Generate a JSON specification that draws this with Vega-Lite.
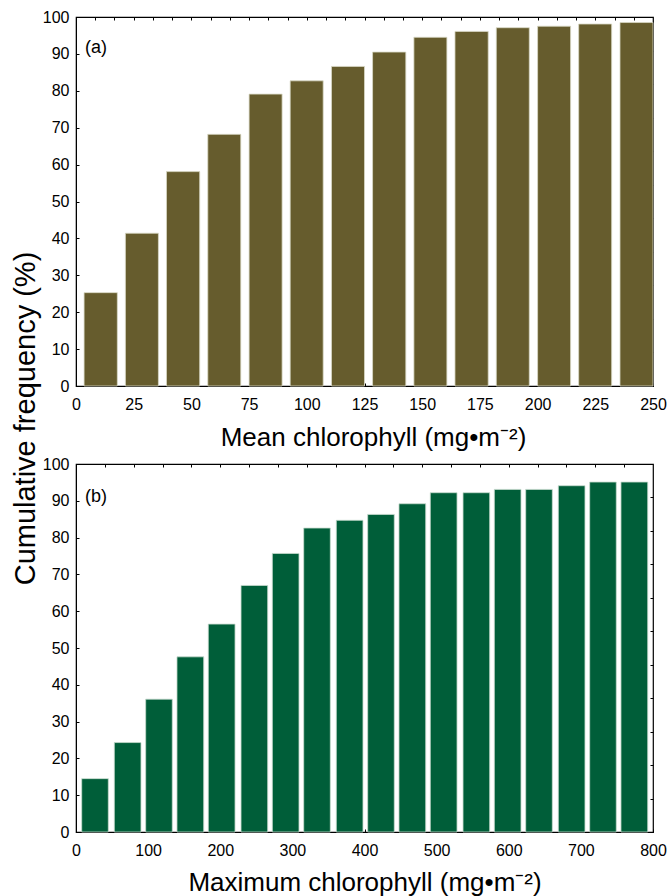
{
  "$schema": "https://vega.github.io/schema/vega-lite/v6.json",
  "background": "white",
  "padding": {"left": 10, "top": 8, "right": 0, "bottom": 0},
  "bounds": "flush",
  "spacing": 78,
  "datasets": {
    "meanChl": [
      {"x0": 3.5, "x1": 17.9, "pct": 25.3},
      {"x0": 21.4, "x1": 35.7, "pct": 41.4},
      {"x0": 39.2, "x1": 53.6, "pct": 58.1},
      {"x0": 57.1, "x1": 71.4, "pct": 68.2},
      {"x0": 75.0, "x1": 89.3, "pct": 79.1},
      {"x0": 92.8, "x1": 107.1, "pct": 82.7},
      {"x0": 110.7, "x1": 125.0, "pct": 86.6},
      {"x0": 128.5, "x1": 142.9, "pct": 90.5},
      {"x0": 146.4, "x1": 160.7, "pct": 94.5},
      {"x0": 164.2, "x1": 178.6, "pct": 96.1},
      {"x0": 182.1, "x1": 196.4, "pct": 97.1},
      {"x0": 200.0, "x1": 214.3, "pct": 97.5},
      {"x0": 217.8, "x1": 232.1, "pct": 98.1},
      {"x0": 235.7, "x1": 250.0, "pct": 98.5}
    ],
    "maxChl": [
      {"x0": 7.9, "x1": 44.8, "pct": 14.5},
      {"x0": 53.1, "x1": 90.1, "pct": 24.3},
      {"x0": 96.6, "x1": 133.5, "pct": 36.1},
      {"x0": 140.0, "x1": 177.1, "pct": 47.6},
      {"x0": 183.4, "x1": 220.5, "pct": 56.5},
      {"x0": 228.8, "x1": 265.8, "pct": 67.0},
      {"x0": 272.2, "x1": 309.2, "pct": 75.7},
      {"x0": 315.7, "x1": 352.6, "pct": 82.6},
      {"x0": 360.9, "x1": 397.9, "pct": 84.7},
      {"x0": 404.4, "x1": 441.3, "pct": 86.3},
      {"x0": 447.8, "x1": 484.9, "pct": 89.2},
      {"x0": 491.2, "x1": 528.3, "pct": 92.2},
      {"x0": 536.6, "x1": 573.6, "pct": 92.2},
      {"x0": 580.0, "x1": 617.0, "pct": 93.1},
      {"x0": 623.5, "x1": 660.4, "pct": 93.1},
      {"x0": 668.7, "x1": 705.7, "pct": 94.1},
      {"x0": 712.2, "x1": 749.1, "pct": 95.1},
      {"x0": 755.6, "x1": 792.7, "pct": 95.1}
    ]
  },
  "vconcat": [
    {
      "width": 577,
      "height": 369,
      "layer": [
        {
          "data": {"name": "meanChl"},
          "mark": {"type": "bar", "color": "#665c2d", "stroke": "#d9d9c6", "strokeWidth": 0.8},
          "encoding": {
            "x": {
              "field": "x0", "type": "quantitative",
              "scale": {"domain": [0, 250], "nice": false, "zero": false},
              "axis": {
                "values": [0, 25, 50, 75, 100, 125, 150, 175, 200, 225, 250],
                "title": "Mean chlorophyll (mg•m⁻²)",
                "titleX": 297, "titleY": 59, "titleBaseline": "alphabetic",
                "labelPadding": 13, "labelFlush": false
              }
            },
            "x2": {"field": "x1"},
            "y": {
              "field": "pct", "type": "quantitative",
              "scale": {"domain": [0, 100], "nice": false},
              "axis": {
                "values": [0, 10, 20, 30, 40, 50, 60, 70, 80, 90, 100],
                "title": "Cumulative frequency (%)",
                "titleX": -42, "titleY": 401, "titleAngle": -90,
                "titleBaseline": "alphabetic", "titleAlign": "center",
                "titleFontSize": 29,
                "labelPadding": 10
              }
            },
            "y2": {"datum": 0}
          }
        },
        {
          "data": {"values": [{"label": "(a)"}]},
          "mark": {"type": "text", "align": "left", "baseline": "middle", "fontSize": 18, "font": "Liberation Sans", "color": "black"},
          "encoding": {
            "text": {"field": "label"},
            "x": {
              "datum": 3.9, "type": "quantitative",
              "axis": {
                "orient": "top", "labels": false, "title": null, "domain": false,
                "values": [8.333, 16.667, 25, 33.333, 41.667, 50, 58.333, 66.667, 75, 83.333, 91.667, 100, 108.333, 116.667, 125, 133.333, 141.667, 150, 158.333, 166.667, 175, 183.333, 191.667, 200, 208.333, 216.667, 225, 233.333, 241.667]
              }
            },
            "y": {
              "datum": 91.5, "type": "quantitative",
              "axis": {
                "orient": "right", "labels": false, "title": null, "domain": false,
                "values": [9.091, 18.182, 27.273, 36.364, 45.455, 54.545, 63.636, 72.727, 81.818, 90.909]
              }
            }
          }
        }
      ],
      "resolve": {"axis": {"x": "independent", "y": "independent"}}
    },
    {
      "width": 577,
      "height": 368,
      "layer": [
        {
          "data": {"name": "maxChl"},
          "mark": {"type": "bar", "color": "#005e39", "stroke": "#c9dccf", "strokeWidth": 0.8},
          "encoding": {
            "x": {
              "field": "x0", "type": "quantitative",
              "scale": {"domain": [0, 800], "nice": false, "zero": false},
              "axis": {
                "values": [0, 100, 200, 300, 400, 500, 600, 700, 800],
                "title": "Maximum chlorophyll (mg•m⁻²)",
                "titleY": 58, "titleBaseline": "alphabetic",
                "labelPadding": 13, "labelFlush": false
              }
            },
            "x2": {"field": "x1"},
            "y": {
              "field": "pct", "type": "quantitative",
              "scale": {"domain": [0, 100], "nice": false},
              "axis": {
                "values": [0, 10, 20, 30, 40, 50, 60, 70, 80, 90, 100],
                "title": null,
                "labelPadding": 10
              }
            },
            "y2": {"datum": 0}
          }
        },
        {
          "data": {"values": [{"label": "(b)"}]},
          "mark": {"type": "text", "align": "left", "baseline": "middle", "fontSize": 18, "font": "Liberation Sans", "color": "black"},
          "encoding": {
            "text": {"field": "label"},
            "x": {
              "datum": 12.5, "type": "quantitative",
              "axis": {
                "orient": "top", "labels": false, "title": null, "domain": false,
                "values": [40, 80, 120, 160, 200, 240, 280, 320, 360, 400, 440, 480, 520, 560, 600, 640, 680, 720, 760]
              }
            },
            "y": {
              "datum": 91.0, "type": "quantitative",
              "axis": {
                "orient": "right", "labels": false, "title": null, "domain": false,
                "values": [9.091, 18.182, 27.273, 36.364, 45.455, 54.545, 63.636, 72.727, 81.818, 90.909]
              }
            }
          }
        }
      ],
      "resolve": {"axis": {"x": "independent", "y": "independent"}}
    }
  ],
  "config": {
    "view": {"stroke": "black", "strokeWidth": 1.2},
    "axis": {
      "grid": false,
      "domainColor": "black",
      "tickColor": "black",
      "tickSize": -3,
      "labelFont": "Liberation Sans",
      "labelFontSize": 16,
      "labelColor": "black",
      "titleFont": "Liberation Sans",
      "titleFontSize": 26,
      "titleFontWeight": "normal",
      "titleColor": "black"
    }
  }
}
